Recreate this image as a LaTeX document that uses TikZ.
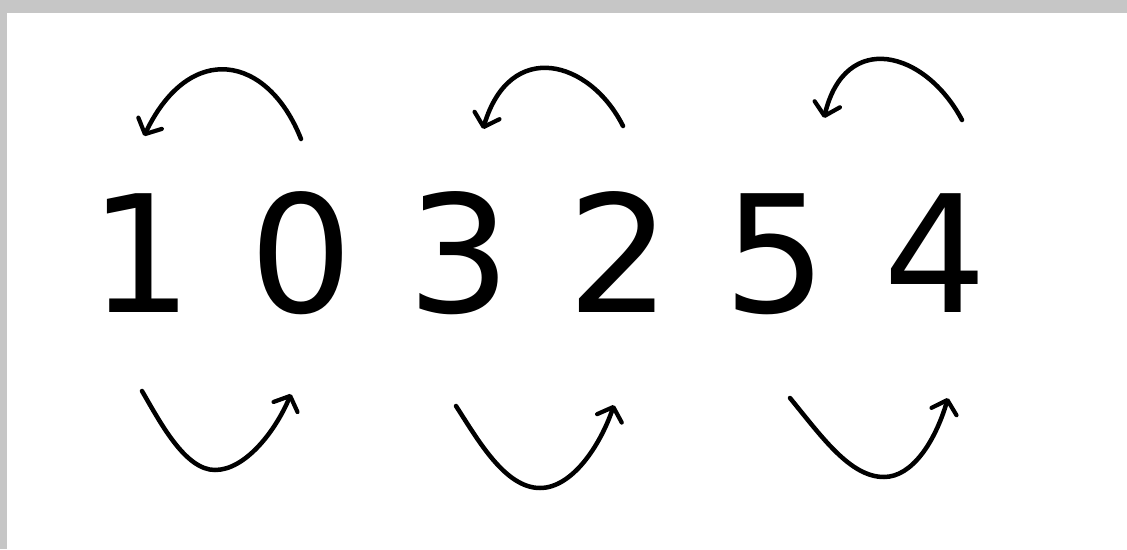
\documentclass[tikz,border=0pt]{standalone}
\usepackage{fontspec}
\setmainfont{DejaVu Sans}
\usetikzlibrary{arrows.meta}
\begin{document}
\begin{tikzpicture}[x=1pt,y=-1pt,
  digit/.style={inner sep=0pt,anchor=base,font=\fontsize{163}{163}\selectfont},
  swaparrow/.style={line width=4.5pt,line cap=round,-{Straight Barb[length=12pt,width=26pt,line width=4.2pt,round]}}]
\useasboundingbox (0,0) rectangle (1127,549);
\fill[gray!45] (0,0) rectangle (1127,549);
\fill[white] (7,13) rectangle (1127,549);
% digits
\node[digit] (d1) at (141,312) {1};
\node[digit] (d0) at (301,312) {0};
\node[digit] (d3) at (459,312) {3};
\node[digit] (d2) at (619,312) {2};
\node[digit] (d5) at (775,312) {5};
\node[digit] (d4) at (935,312) {4};
% arrow end points
\coordinate (t1s) at (301,139);
\coordinate (t1e) at (144,136);
\coordinate (t2s) at (623,126);
\coordinate (t2e) at (483,129);
\coordinate (t3s) at (962,120);
\coordinate (t3e) at (824,118);
\coordinate (b1s) at (142,391);
\coordinate (b1m) at (215,470);
\coordinate (b1e) at (291,394);
\coordinate (b2s) at (456,406);
\coordinate (b2m) at (540,488);
\coordinate (b2e) at (614,405);
\coordinate (b3s) at (790,398);
\coordinate (b3m) at (884,477);
\coordinate (b3e) at (948,398);
% top arrows
\draw[swaparrow] (t1s) .. controls (268,55) and (190,40) .. (t1e);
\draw[swaparrow] (t2s) .. controls (590,60) and (510,38) .. (t2e);
\draw[swaparrow] (t3s) .. controls (925,50) and (845,30) .. (t3e);
% bottom arrows
\draw[swaparrow] (b1s) .. controls (160,422) and (185,470) .. (b1m) .. controls (245,470) and (275,432) .. (b1e);
\draw[swaparrow] (b2s) .. controls (478,440) and (505,488) .. (b2m) .. controls (572,488) and (600,446) .. (b2e);
\draw[swaparrow] (b3s) .. controls (822,437) and (850,477) .. (b3m) .. controls (912,477) and (935,442) .. (b3e);
\end{tikzpicture}
\end{document}
